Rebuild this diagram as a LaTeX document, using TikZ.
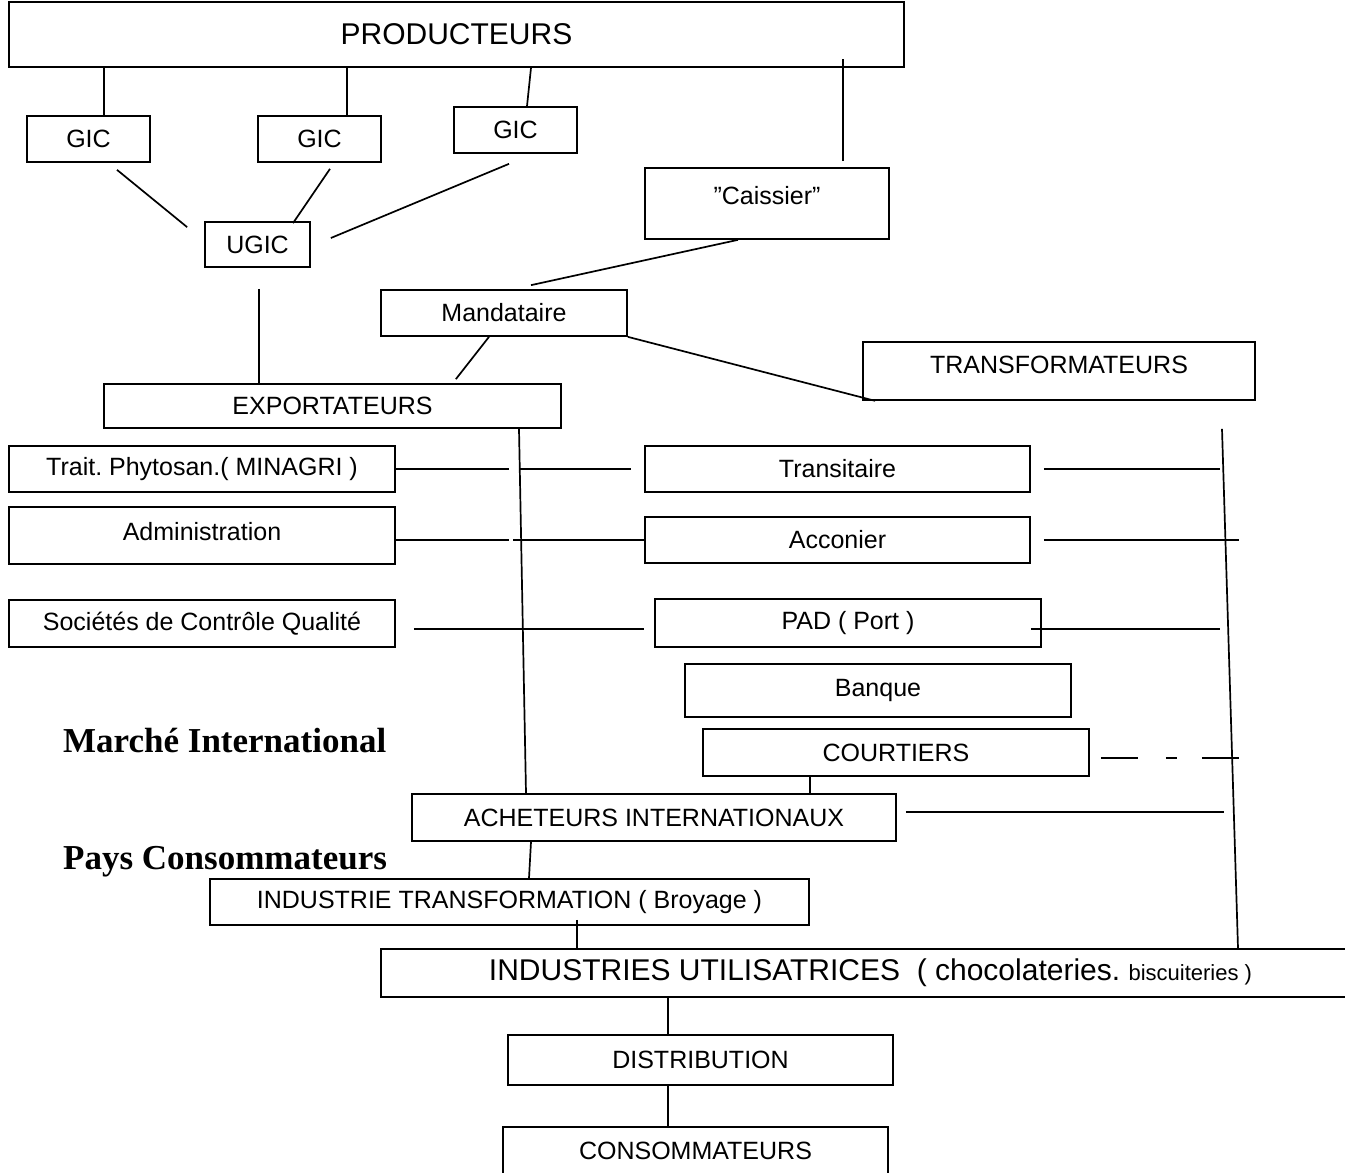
\documentclass[tikz,border=0pt]{standalone}
\usepackage{fontspec}
\setmainfont{Liberation Serif}
\setsansfont{Liberation Sans}
\usetikzlibrary{calc}
\frenchspacing

\tikzset{
  boite/.style={draw, line width=1.7pt, inner sep=0pt, font=\sffamily\fontsize{25}{30}\selectfont},
  trait/.style={line width=1.7pt},
  titre/.style={anchor=west, inner sep=0pt, font=\rmfamily\bfseries\fontsize{35}{40}\selectfont}
}

\begin{document}
\begin{tikzpicture}[x=1pt, y=-1pt]
    \useasboundingbox (0,0) rectangle (1345,1173);
    \node[boite, minimum width=895pt, minimum height=65pt, font=\sffamily\fontsize{30}{36}\selectfont] (prod) at (456.5,34.5) {PRODUCTEURS};
    \node[boite, minimum width=123pt, minimum height=46pt] (gicA) at (88.5,139) {GIC};
    \node[boite, minimum width=123pt, minimum height=46pt] (gicB) at (319.5,139) {GIC};
    \node[boite, minimum width=123pt, minimum height=46pt] (gicC) at (515.5,130) {GIC};
    \node[boite, minimum width=244pt, minimum height=71pt, text depth=17pt] (caissier) at (767,203.5) {''Caissier''};
    \node[boite, minimum width=105pt, minimum height=45pt] (ugic) at (257.5,244.5) {UGIC};
    \node[boite, minimum width=246pt, minimum height=46pt] (mand) at (504,313) {Mandataire};
    \node[boite, minimum width=392pt, minimum height=58pt, text depth=12pt] (transf) at (1059,371) {TRANSFORMATEURS};
    \node[boite, minimum width=457pt, minimum height=44pt] (export) at (332.5,406) {EXPORTATEURS};
    \node[boite, minimum width=386pt, minimum height=46pt] (phyto) at (202,469) {Trait. Phytosan.( MINAGRI )};
    \node[boite, minimum width=385pt, minimum height=46pt] (transit) at (837.5,469) {Transitaire};
    \node[boite, minimum width=386pt, minimum height=57pt, text depth=9pt] (admin) at (202,535.5) {Administration};
    \node[boite, minimum width=385pt, minimum height=46pt] (accon) at (837.5,540) {Acconier};
    \node[boite, minimum width=386pt, minimum height=47pt] (ctrl) at (202,623.5) {Sociétés de Contrôle Qualité};
    \node[boite, minimum width=386pt, minimum height=48pt] (pad) at (848,623) {PAD ( Port )};
    \node[boite, minimum width=386pt, minimum height=53pt] (banque) at (878,690.5) {Banque};
    \node[boite, minimum width=386pt, minimum height=47pt] (court) at (896,752.5) {COURTIERS};
    \node[boite, minimum width=484pt, minimum height=47pt] (achet) at (654,817.5) {ACHETEURS INTERNATIONAUX};
    \node[boite, minimum width=599pt, minimum height=46pt] (broy) at (509.5,902) {INDUSTRIE TRANSFORMATION ( Broyage )};
    \node[boite, minimum width=979pt, minimum height=48pt, font=\sffamily\fontsize{30}{36}\selectfont] (util) at (870.5,973) {INDUSTRIES UTILISATRICES\ \ ( chocolateries. {\fontsize{22}{26}\selectfont biscuiteries )}};
    \node[boite, minimum width=385pt, minimum height=50pt] (distrib) at (700.5,1060) {DISTRIBUTION};
    \node[boite, minimum width=385pt, minimum height=48pt] (conso) at (695.5,1151) {CONSOMMATEURS};
    \node[titre] (marche) at (63,741) {Marché International};
    \node[titre] (pays) at (63,862) {Pays Consommateurs};

    \draw[trait] ($(gicA.north)+(15.5,0)$) -- ($(gicA.north |- prod.south)+(15.5,0)$);
    \draw[trait] ($(gicB.north)+(27.5,0)$) -- ($(gicB.north |- prod.south)+(27.5,0)$);
    \draw[trait] ($(gicC.north)+(11.5,0)$) -- ($(prod.south)+(74.5,0)$);
    \draw[trait] ($(caissier.north)+(76,-6)$) -- ($(caissier.north |- prod.south)+(76,-9)$);
    \draw[trait] ($(gicA.south)+(28.5,7)$) -- ($(ugic.north west)+(-17,6)$);
    \draw[trait] ($(gicB.south)+(10.5,6)$) -- ($(ugic.north)+(35.5,2)$);
    \draw[trait] ($(gicC.south)+(-6.5,10)$) -- ($(ugic.east)+(20,-6.5)$);
    \draw[trait] ($(caissier.south)+(-29,0)$) -- ($(mand.north)+(27,-4)$);
    \draw[trait] ($(ugic.south)+(1.5,21)$) -- ($(ugic.south |- export.north)+(1.5,0)$);
    \draw[trait] ($(mand.south)+(-15,0)$) -- ($(export.north east)+(-106,-4)$);
    \draw[trait] (mand.south east) -- ($(transf.south west)+(13,0)$);
    \draw[trait] ($(export.south)+(186.5,0)$) -- ($(achet.north)+(-128,0)$);
    \draw[trait] ($(transf.south)+(163,28)$) -- ($(util.north)+(367.5,0)$);

    \draw[trait] (phyto.east) -- ++(113,0);
    \draw[trait] ($(transit.west)+(-125,0)$) -- ($(transit.west)+(-13,0)$);
    \draw[trait] ($(transit.east)+(13,0)$) -- ($(transit.east)+(189,0)$);
    \draw[trait] ($(admin.east)+(0,4.5)$) -- ++(113,0);
    \draw[trait] ($(accon.west)+(-131,0)$) -- (accon.west);
    \draw[trait] ($(accon.east)+(13,0)$) -- ($(accon.east)+(208,0)$);
    \draw[trait] ($(ctrl.east)+(18,5.5)$) -- ($(pad.west)+(-10,6)$);
    \draw[trait] ($(pad.east)+(-11,6)$) -- ($(pad.east)+(178,6)$);
    \draw[trait, dash pattern=on 37pt off 28pt on 11pt off 25pt] ($(court.east)+(11,5.5)$) -- ($(court.east)+(149,5.5)$);
    \draw[trait] ($(achet.east)+(9,-5.5)$) -- ($(achet.east)+(327,-5.5)$);

    \draw[trait] ($(court.south)+(-86,0)$) -- ($(court.south |- achet.north)+(-86,0)$);
    \draw[trait] ($(achet.south)+(-123,0)$) -- ($(broy.north)+(19.5,0)$);
    \draw[trait] ($(broy.south)+(67.5,-6)$) -- ($(broy.south |- util.north)+(67.5,0)$);
    \draw[trait] ($(util.south)+(-202.5,0)$) -- ($(distrib.north)+(-32.5,0)$);
    \draw[trait] ($(distrib.south)+(-32.5,0)$) -- ($(conso.north)+(-27.5,0)$);
\end{tikzpicture}
\end{document}
